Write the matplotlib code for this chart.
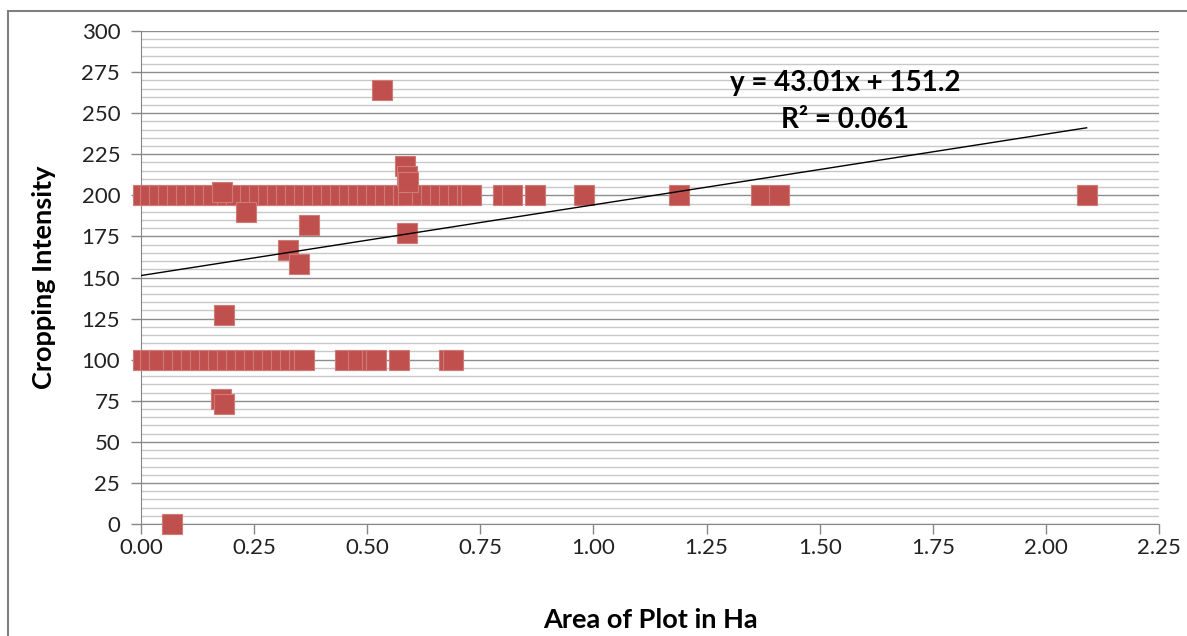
import matplotlib.pyplot as plt
from matplotlib.patches import Rectangle
from matplotlib.ticker import MultipleLocator

plt.rcParams['font.family'] = ['Lato', 'DejaVu Sans']

# area of plot (ha) and cropping intensity (%)
area_200 = [0.005, 0.02, 0.04, 0.06, 0.08, 0.10, 0.12, 0.14, 0.16, 0.19, 0.21,
            0.24, 0.26, 0.28, 0.30, 0.32, 0.34, 0.36, 0.38, 0.40, 0.42, 0.44,
            0.46, 0.48, 0.50, 0.52, 0.54, 0.56, 0.58, 0.59, 0.62, 0.64, 0.66,
            0.68, 0.70, 0.72, 0.73, 0.80, 0.82, 0.87, 0.98, 1.19, 1.37, 1.41, 2.09]
area_100 = [0.005, 0.02, 0.04, 0.07, 0.09, 0.11, 0.13, 0.15, 0.17, 0.19, 0.21,
            0.23, 0.25, 0.27, 0.29, 0.31, 0.33, 0.35, 0.36, 0.45, 0.48, 0.51,
            0.52, 0.57, 0.68, 0.69]
area_other = [0.068, 0.177, 0.183, 0.183, 0.232, 0.325, 0.349, 0.371, 0.532,
              0.583, 0.588, 0.59, 0.588, 0.18]
ci_other = [0, 76, 73, 127, 190, 167, 158, 182, 264, 218, 212, 208, 177, 202]

slope = 43.01
intercept = 151.2

x = area_200 + area_100 + area_other
y = [200] * len(area_200) + [100] * len(area_100) + ci_other

fig = plt.figure(figsize=(11.87, 6.36), dpi=100)
ax = fig.add_axes([0.1188, 0.176, 0.8576, 0.7753])

ax.plot(x, y, 's', color='#C0504D', markersize=14.5, markeredgecolor='#D07A78',
        markeredgewidth=0.8, clip_on=False, zorder=3)

xmax = max(x)
ax.plot([0, xmax], [intercept, intercept + slope * xmax], color='black', lw=1, zorder=4)

ax.set_xlim(0, 2.25)
ax.set_ylim(0, 300)
ax.xaxis.set_major_locator(MultipleLocator(0.25))
ax.yaxis.set_major_locator(MultipleLocator(25))
ax.yaxis.set_minor_locator(MultipleLocator(5))
ax.xaxis.set_major_formatter(lambda v, p: f'{v:.2f}')
ax.grid(True, which='major', axis='y', color='#8C8C8C', lw=1)
ax.grid(True, which='minor', axis='y', color='#C8C8C8', lw=1)
ax.tick_params(axis='y', which='minor', length=0)
ax.tick_params(axis='both', which='major', colors='#868686', labelcolor='#222222',
               labelsize=16, length=7, width=1)
ax.tick_params(axis='x', pad=3)
ax.tick_params(axis='y', pad=8)
for s in ['top', 'right']:
    ax.spines[s].set_visible(False)
for s in ['left', 'bottom']:
    ax.spines[s].set_color('#868686')
ax.set_axisbelow(True)

ax.set_xlabel('Area of Plot in Ha', fontsize=19.5, fontweight='bold', labelpad=36)
ax.set_ylabel('Cropping Intensity', fontsize=19.5, fontweight='bold', labelpad=18)

ax.text(845, 636 - 83, 'y = 43.01x + 151.2', transform=None, ha='center', va='center',
        fontsize=20, fontweight='bold')
ax.text(845, 636 - 120, 'R² = 0.061', transform=None, ha='center', va='center',
        fontsize=20, fontweight='bold')

fig.patches.append(Rectangle((8 / 1187, -0.1), 1.2, 1 - 11 / 636 + 0.1,
                             transform=fig.transFigure, fill=False,
                             edgecolor='#808080', lw=1.5))

fig.savefig('out.png', dpi=100)
